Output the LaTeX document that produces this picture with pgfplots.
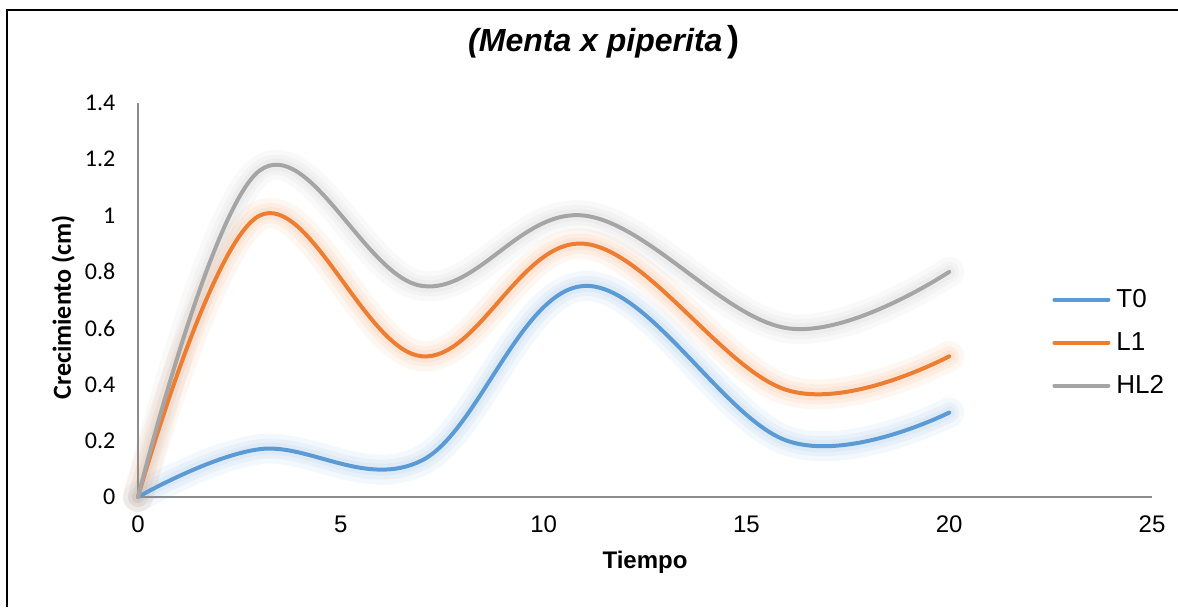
\documentclass[border=0pt]{standalone}
\usepackage{fontspec}
\setmainfont{Liberation Sans}
\newfontfamily\carlito{Carlito}
\usepackage{pgfplots}
\usepackage{pgfplotstable}
\pgfplotsset{compat=1.18}

\definecolor{cT}{HTML}{5B9BD5}
\definecolor{cL}{HTML}{ED7D31}
\definecolor{cH}{HTML}{A5A5A5}
\definecolor{axisgray}{HTML}{8C8C8C}

% tiempo, T0, L1, HL2
\pgfplotstableread{
x   t0    l1    hl2
0   0     0     0
3   0.17  1.00  1.16
7   0.13  0.50  0.75
11  0.75  0.90  1.00
16  0.20  0.38  0.60
20  0.30  0.50  0.80
}\datos

\pgfplotsset{
  glow/.style={forget plot, smooth, tension=0.62, line cap=round, line join=round,
    draw=#1, draw opacity=0.07},
  serie/.style={smooth, tension=0.62, line cap=round, line join=round,
    draw=#1, line width=2pt},
}

\begin{document}
\begin{tikzpicture}
\useasboundingbox (-69pt,-55pt) rectangle (520pt,248.5pt);
\draw[line width=1.2pt] (-65.5pt,-55pt) -- (-65.5pt,243.5pt) -- (520pt,243.5pt);
\begin{axis}[
    scale only axis,
    width=507pt, height=197pt,
    xmin=0, xmax=25, ymin=0, ymax=1.4,
    xtick={0,5,...,25},
    ytick={0,0.2,...,1.4},
    axis x line*=bottom, axis y line*=left,
    axis line style={draw=axisgray, line width=0.9pt, -},
    major tick length=0pt,
    /pgf/number format/assume math mode=true,
    tick label style={font=\fontsize{12}{14}\selectfont},
    yticklabel style={font=\carlito\fontsize{12}{14}\selectfont, xshift=-7.8pt},
    xticklabel style={yshift=-6pt},
    xlabel={\textbf{Tiempo}},
    xlabel style={font=\fontsize{12}{14}\selectfont, at={(rel axis cs:0.5,0)}, anchor=base, yshift=-35.5pt},
    ylabel={\textbf{Crecimiento (cm)}},
    ylabel style={font=\carlito\fontsize{13}{15}\selectfont, at={(rel axis cs:0,0.481)}, anchor=base, yshift=33.5pt},
    title={\textit{(Menta x piperita}\,{\fontsize{18}{18}\selectfont)}},
    title style={font=\bfseries\fontsize{16}{18}\selectfont, at={(rel axis cs:0.4596,1)}, anchor=base, yshift=19.75pt},
    legend style={draw=none, fill=none, at={(rel axis cs:0.9014,0.529)}, anchor=north west,
      font=\fontsize{13}{15}\selectfont, row sep=11pt, column sep=3pt, inner sep=0pt,
      nodes={inner sep=0pt}},
    legend cell align=left,
    legend image code/.code={\draw[#1, line width=2pt] (0pt,0pt) -- (27pt,0pt);},
    clip=false,
  ]
  % resplandor suave
  \addplot[glow=cT, line width=15pt] table[x=x, y=t0] {\datos};
  \addplot[glow=cT, line width=10pt] table[x=x, y=t0] {\datos};
  \addplot[glow=cT, line width=6pt] table[x=x, y=t0] {\datos};
  \addplot[glow=cL, line width=15pt] table[x=x, y=l1] {\datos};
  \addplot[glow=cL, line width=10pt] table[x=x, y=l1] {\datos};
  \addplot[glow=cL, line width=6pt] table[x=x, y=l1] {\datos};
  \addplot[glow=cH, line width=15pt] table[x=x, y=hl2] {\datos};
  \addplot[glow=cH, line width=10pt] table[x=x, y=hl2] {\datos};
  \addplot[glow=cH, line width=6pt] table[x=x, y=hl2] {\datos};
  % series
  \addplot[serie=cT] table[x=x, y=t0] {\datos};
  \addplot[serie=cL] table[x=x, y=l1] {\datos};
  \addplot[serie=cH] table[x=x, y=hl2] {\datos};
  \legend{T0, L1, HL2}
\end{axis}
\end{tikzpicture}
\end{document}
